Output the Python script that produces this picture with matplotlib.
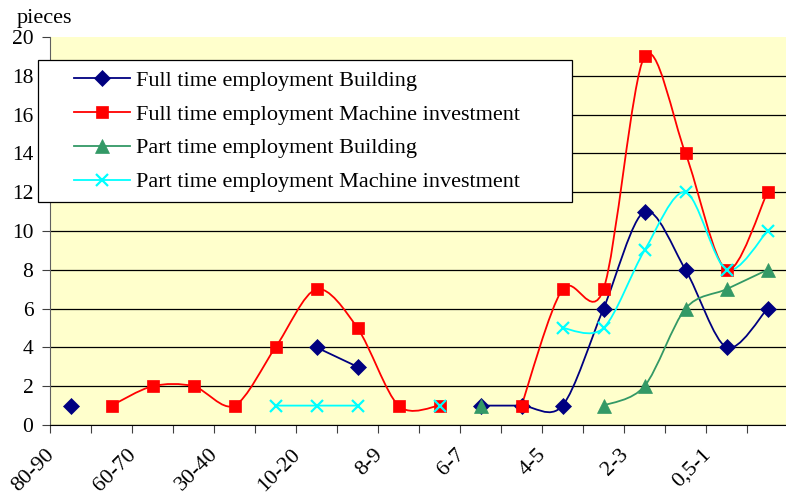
import matplotlib
matplotlib.use('Agg')
import matplotlib.pyplot as plt
import matplotlib.transforms as mtransforms
from matplotlib.path import Path
from matplotlib.patches import PathPatch, Rectangle
import numpy as np

plt.rcParams['font.family'] = ['Liberation Serif', 'DejaVu Serif']

# every other category is labelled on the axis
labels = ['80-90', '60-70', '30-40', '10-20', '8-9', '6-7', '4-5', '2-3', '0,5-1']
n_cat = 18
nan = np.nan

full_building = [1, nan, nan, nan, nan, nan, 4, 3, nan, nan, 1, 1, 1, 6, 11, 8, 4, 6]
full_machine = [nan, 1, 2, 2, 1, 4, 7, 5, 1, 1, nan, 1, 7, 7, 19, 14, 8, 12]
part_building = [nan, nan, nan, nan, nan, nan, nan, nan, nan, nan, 1, nan, nan, 1, 2, 6, 7, 8]
part_machine = [nan, nan, nan, nan, nan, 1, 1, 1, nan, 1, nan, nan, 5, 5, 9, 12, 8, 10]

series = [
    ('Full time employment Building', full_building, '#000080', 'D', 8.5),
    ('Full time employment Machine investment', full_machine, '#FF0000', 's', 9),
    ('Part time employment Building', part_building, '#339966', '^', 10),
    ('Part time employment Machine investment', part_machine, '#00FFFF', 'x', 9),
]


def smooth_path(xs, ys, k=1 / 6.5):
    # Excel-like smoothed line: cubic bezier through the points
    pts = np.column_stack([xs, ys])
    verts = [pts[0]]
    codes = [Path.MOVETO]
    n = len(pts)
    for i in range(n - 1):
        p0 = pts[i - 1] if i > 0 else pts[i]
        p1 = pts[i]
        p2 = pts[i + 1]
        p3 = pts[i + 2] if i + 2 < n else pts[i + 1]
        c1 = p1 + (p2 - p0) * k
        c2 = p2 - (p3 - p1) * k
        verts += [c1, c2, p2]
        codes += [Path.CURVE4] * 3
    return Path(verts, codes)


fig = plt.figure(figsize=(7.86, 4.96), dpi=100)
ax = fig.add_axes([50 / 786, 1 - 425 / 496, 738 / 786, 388 / 496])
ax.set_facecolor('#FFFFCC')

x = np.arange(n_cat)
for name, vals, color, marker, ms in series:
    y = np.array(vals, dtype=float)
    ok = ~np.isnan(y)
    # split into contiguous runs
    start = None
    for i in range(n_cat + 1):
        if i < n_cat and ok[i]:
            if start is None:
                start = i
        else:
            if start is not None and i - start > 1:
                ax.add_patch(PathPatch(smooth_path(x[start:i], y[start:i]),
                                       facecolor='none', edgecolor=color, lw=1.3, zorder=3))
            start = None
    mew = 1.6 if marker == 'x' else 0.5
    ax.plot(x[ok], y[ok], linestyle='none', marker=marker, markersize=ms,
            color=color, markeredgewidth=mew, zorder=4)
    ax.plot([], [], color=color, lw=1.3, marker=marker, markersize=ms,
            markeredgewidth=mew, label=name)

ax.set_xlim(-0.5, n_cat - 0.5)
ax.set_ylim(0, 20)
ax.set_yticks(np.arange(0, 21, 2))
ax.yaxis.grid(True, color='black', lw=0.9)
ax.yaxis.get_gridlines()[-1].set_visible(False)
ax.set_axisbelow(True)
ax.set_xticks(np.arange(-0.5, n_cat, 1))
ax.set_xticklabels([])
ax.tick_params(axis='x', direction='out', length=6, width=0.8, color='#404040')
ax.tick_params(axis='y', direction='out', length=6, width=0.8, color='#404040',
               labelsize=15.5, pad=6)
for s in ['top', 'right']:
    ax.spines[s].set_visible(False)
ax.spines['left'].set_color('#606060')
ax.spines['bottom'].set_color('black')

offset = mtransforms.ScaledTranslation(-0.12, -0.2, fig.dpi_scale_trans)
trans = mtransforms.blended_transform_factory(ax.transData, ax.transAxes) + offset
for k, lab in enumerate(labels):
    ax.text(2 * k, 0, lab, transform=trans, rotation=45, ha='right', va='top',
            fontsize=16)

fig.text(17 / 786, 1 - 18 / 496, 'pieces', fontsize=16, va='center', ha='left')

# legend box drawn separately (Excel pads more at the sides)
box = Rectangle((38 / 786, 1 - 202 / 496), 534 / 786, 142 / 496, transform=fig.transFigure,
                facecolor='white', edgecolor='black', lw=0.9, zorder=5)
fig.patches.append(box)
leg = fig.legend(loc='upper left', bbox_to_anchor=(63 / 786, 1 - 59 / 496),
                 fontsize=16, frameon=False, handlelength=2.5, labelspacing=0.6,
                 borderpad=0, handletextpad=0.3)
leg.set_zorder(6)

fig.savefig('out.png', dpi=100)
